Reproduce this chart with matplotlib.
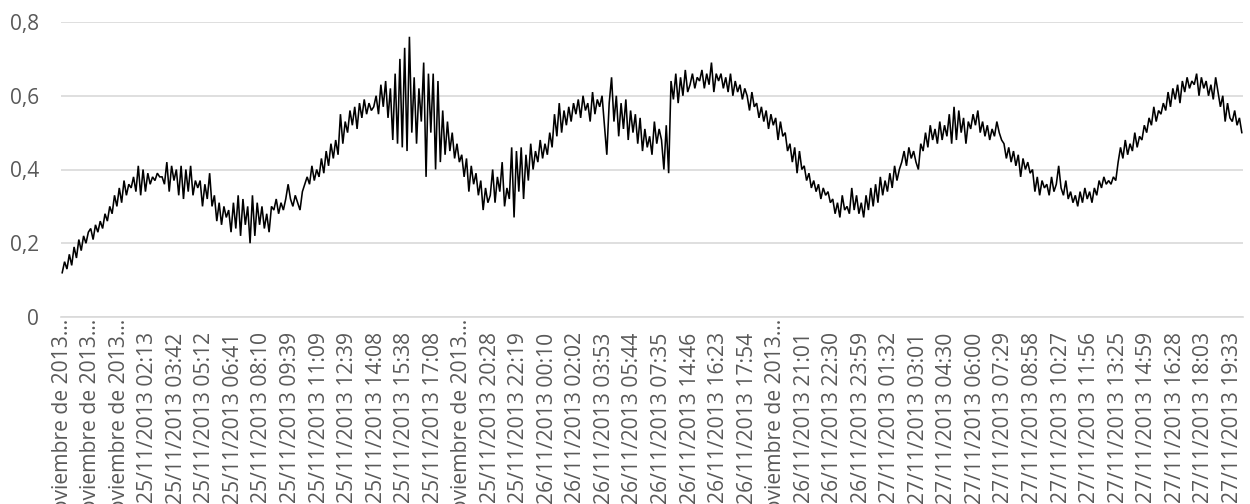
import matplotlib
matplotlib.use("Agg")
import matplotlib.pyplot as plt
import numpy as np

# Readings, grouped 12 samples per labelled interval
row_values = [
    [0.12, 0.15, 0.13, 0.17, 0.14, 0.19, 0.16, 0.21, 0.18, 0.22, 0.20, 0.23],
    [0.24, 0.21, 0.25, 0.23, 0.26, 0.24, 0.28, 0.26, 0.30, 0.28, 0.33, 0.30],
    [0.35, 0.31, 0.37, 0.33, 0.36, 0.35, 0.38, 0.34, 0.41, 0.33, 0.40, 0.34],
    [0.39, 0.36, 0.38, 0.37, 0.39, 0.38, 0.38, 0.36, 0.42, 0.34, 0.41, 0.37],
    [0.40, 0.33, 0.41, 0.32, 0.40, 0.34, 0.41, 0.33, 0.37, 0.35, 0.37, 0.30],
    [0.36, 0.32, 0.39, 0.30, 0.33, 0.26, 0.31, 0.25, 0.30, 0.27, 0.29, 0.23],
    [0.31, 0.24, 0.33, 0.22, 0.32, 0.25, 0.30, 0.20, 0.33, 0.22, 0.31, 0.25],
    [0.30, 0.24, 0.28, 0.23, 0.30, 0.29, 0.32, 0.28, 0.31, 0.29, 0.32, 0.36],
    [0.32, 0.30, 0.33, 0.31, 0.29, 0.34, 0.36, 0.38, 0.36, 0.41, 0.37, 0.40],
    [0.38, 0.43, 0.39, 0.45, 0.41, 0.47, 0.43, 0.48, 0.44, 0.55, 0.47, 0.53],
    [0.50, 0.56, 0.52, 0.57, 0.51, 0.58, 0.54, 0.59, 0.55, 0.58, 0.56, 0.57],
    [0.60, 0.55, 0.63, 0.57, 0.64, 0.54, 0.62, 0.48, 0.66, 0.47, 0.70, 0.46],
    [0.73, 0.45, 0.76, 0.50, 0.65, 0.47, 0.62, 0.53, 0.69, 0.38, 0.66, 0.50],
    [0.66, 0.40, 0.64, 0.42, 0.56, 0.44, 0.53, 0.45, 0.50, 0.43, 0.47, 0.42],
    [0.44, 0.38, 0.43, 0.34, 0.41, 0.36, 0.39, 0.33, 0.37, 0.29, 0.35, 0.31],
    [0.33, 0.40, 0.31, 0.38, 0.34, 0.42, 0.30, 0.35, 0.32, 0.46, 0.27, 0.45],
    [0.34, 0.46, 0.32, 0.44, 0.37, 0.47, 0.40, 0.45, 0.42, 0.48, 0.43, 0.47],
    [0.44, 0.50, 0.46, 0.55, 0.49, 0.58, 0.50, 0.56, 0.52, 0.57, 0.53, 0.58],
    [0.55, 0.59, 0.54, 0.60, 0.56, 0.58, 0.53, 0.61, 0.55, 0.59, 0.57, 0.60],
    [0.52, 0.44, 0.58, 0.65, 0.53, 0.60, 0.49, 0.58, 0.51, 0.59, 0.48, 0.56],
    [0.50, 0.55, 0.47, 0.54, 0.45, 0.51, 0.46, 0.49, 0.44, 0.53, 0.47, 0.51],
    [0.48, 0.40, 0.52, 0.39, 0.64, 0.59, 0.66, 0.58, 0.65, 0.60, 0.67, 0.61],
    [0.63, 0.66, 0.62, 0.65, 0.64, 0.67, 0.62, 0.66, 0.63, 0.69, 0.61, 0.66],
    [0.64, 0.66, 0.62, 0.65, 0.61, 0.66, 0.60, 0.64, 0.61, 0.63, 0.59, 0.62],
    [0.60, 0.56, 0.61, 0.57, 0.58, 0.54, 0.57, 0.53, 0.56, 0.51, 0.55, 0.52],
    [0.54, 0.48, 0.53, 0.49, 0.50, 0.45, 0.47, 0.42, 0.46, 0.39, 0.45, 0.40],
    [0.41, 0.37, 0.39, 0.35, 0.37, 0.34, 0.36, 0.32, 0.35, 0.33, 0.34, 0.31],
    [0.32, 0.28, 0.31, 0.27, 0.33, 0.29, 0.30, 0.28, 0.35, 0.29, 0.33, 0.28],
    [0.31, 0.27, 0.33, 0.29, 0.35, 0.30, 0.36, 0.31, 0.38, 0.33, 0.37, 0.34],
    [0.39, 0.35, 0.41, 0.37, 0.40, 0.42, 0.45, 0.41, 0.46, 0.43, 0.45, 0.42],
    [0.40, 0.47, 0.45, 0.50, 0.46, 0.52, 0.48, 0.51, 0.47, 0.53, 0.48, 0.52],
    [0.49, 0.55, 0.47, 0.57, 0.48, 0.56, 0.50, 0.54, 0.47, 0.53, 0.51, 0.55],
    [0.52, 0.56, 0.50, 0.53, 0.49, 0.52, 0.48, 0.51, 0.49, 0.53, 0.50, 0.48],
    [0.47, 0.43, 0.46, 0.42, 0.45, 0.41, 0.44, 0.38, 0.43, 0.40, 0.42, 0.39],
    [0.40, 0.34, 0.38, 0.33, 0.37, 0.35, 0.36, 0.33, 0.38, 0.34, 0.36, 0.41],
    [0.35, 0.33, 0.37, 0.32, 0.34, 0.31, 0.33, 0.30, 0.34, 0.31, 0.35, 0.32],
    [0.34, 0.31, 0.35, 0.33, 0.37, 0.35, 0.38, 0.36, 0.37, 0.36, 0.38, 0.37],
    [0.42, 0.46, 0.43, 0.48, 0.44, 0.47, 0.45, 0.50, 0.46, 0.49, 0.48, 0.52],
    [0.50, 0.54, 0.52, 0.57, 0.53, 0.56, 0.55, 0.58, 0.56, 0.61, 0.57, 0.62],
    [0.59, 0.63, 0.58, 0.64, 0.61, 0.65, 0.62, 0.64, 0.63, 0.66, 0.60, 0.65],
    [0.62, 0.64, 0.60, 0.63, 0.59, 0.65, 0.61, 0.57, 0.60, 0.53, 0.58, 0.54],
    [0.53, 0.56, 0.52, 0.54, 0.50],
]

category_labels = [
    "24 de noviembre de 2013…", "24 de noviembre de 2013…", "25 de noviembre de 2013…",
    "25/11/2013 02:13", "25/11/2013 03:42", "25/11/2013 05:12", "25/11/2013 06:41",
    "25/11/2013 08:10", "25/11/2013 09:39", "25/11/2013 11:09", "25/11/2013 12:39",
    "25/11/2013 14:08", "25/11/2013 15:38", "25/11/2013 17:08",
    "25 de noviembre de 2013…",
    "25/11/2013 20:28", "25/11/2013 22:19", "26/11/2013 00:10", "26/11/2013 02:02",
    "26/11/2013 03:53", "26/11/2013 05:44", "26/11/2013 07:35", "26/11/2013 14:46",
    "26/11/2013 16:23", "26/11/2013 17:54",
    "26 de noviembre de 2013…",
    "26/11/2013 21:01", "26/11/2013 22:30", "26/11/2013 23:59", "27/11/2013 01:32",
    "27/11/2013 03:01", "27/11/2013 04:30", "27/11/2013 06:00", "27/11/2013 07:29",
    "27/11/2013 08:58", "27/11/2013 10:27", "27/11/2013 11:56", "27/11/2013 13:25",
    "27/11/2013 14:59", "27/11/2013 16:28", "27/11/2013 18:03", "27/11/2013 19:33",
]
label_step = 12

y_ticks = [0.0, 0.2, 0.4, 0.6, 0.8]
y_tick_labels = ["0", "0,2", "0,4", "0,6", "0,8"]

values = np.concatenate([np.asarray(r, dtype=float) for r in row_values])
n = len(values)
x = np.arange(n)

plt.rcParams["font.family"] = ["Open Sans", "DejaVu Sans"]
text_grey = "#595959"
grid_grey = "#d9d9d9"

fig = plt.figure(figsize=(12.5, 5.04), dpi=100)
ax = fig.add_axes([61 / 1250, 1 - 317 / 504, (1243 - 61) / 1250, (317 - 22) / 504])

ax.plot(x, values, color="black", lw=1.15, solid_joinstyle="miter")

ax.set_xlim(-0.5, n - 0.5)
ax.set_ylim(0, 0.8)

ax.set_yticks(y_ticks)
ax.set_yticklabels(y_tick_labels, color=text_grey, fontsize=15)
ax.tick_params(axis="y", length=0, pad=16)
ax.yaxis.grid(True, color=grid_grey, lw=1.2)
ax.set_axisbelow(True)

for s in ["top", "right", "left"]:
    ax.spines[s].set_visible(False)
ax.spines["bottom"].set_color(grid_grey)
ax.spines["bottom"].set_linewidth(1.2)

ax.set_xticks([])
for i, lab in enumerate(category_labels):
    truncated = lab.endswith("…")
    offset = -1 if truncated else -11
    ax.annotate(lab, xy=(i * label_step, 0), xycoords=("data", "axes fraction"),
                xytext=(0, offset), textcoords="offset points",
                rotation=90, ha="center", va="top", fontsize=15.2,
                color=text_grey, annotation_clip=False)

fig.savefig("out.png", dpi=100)
